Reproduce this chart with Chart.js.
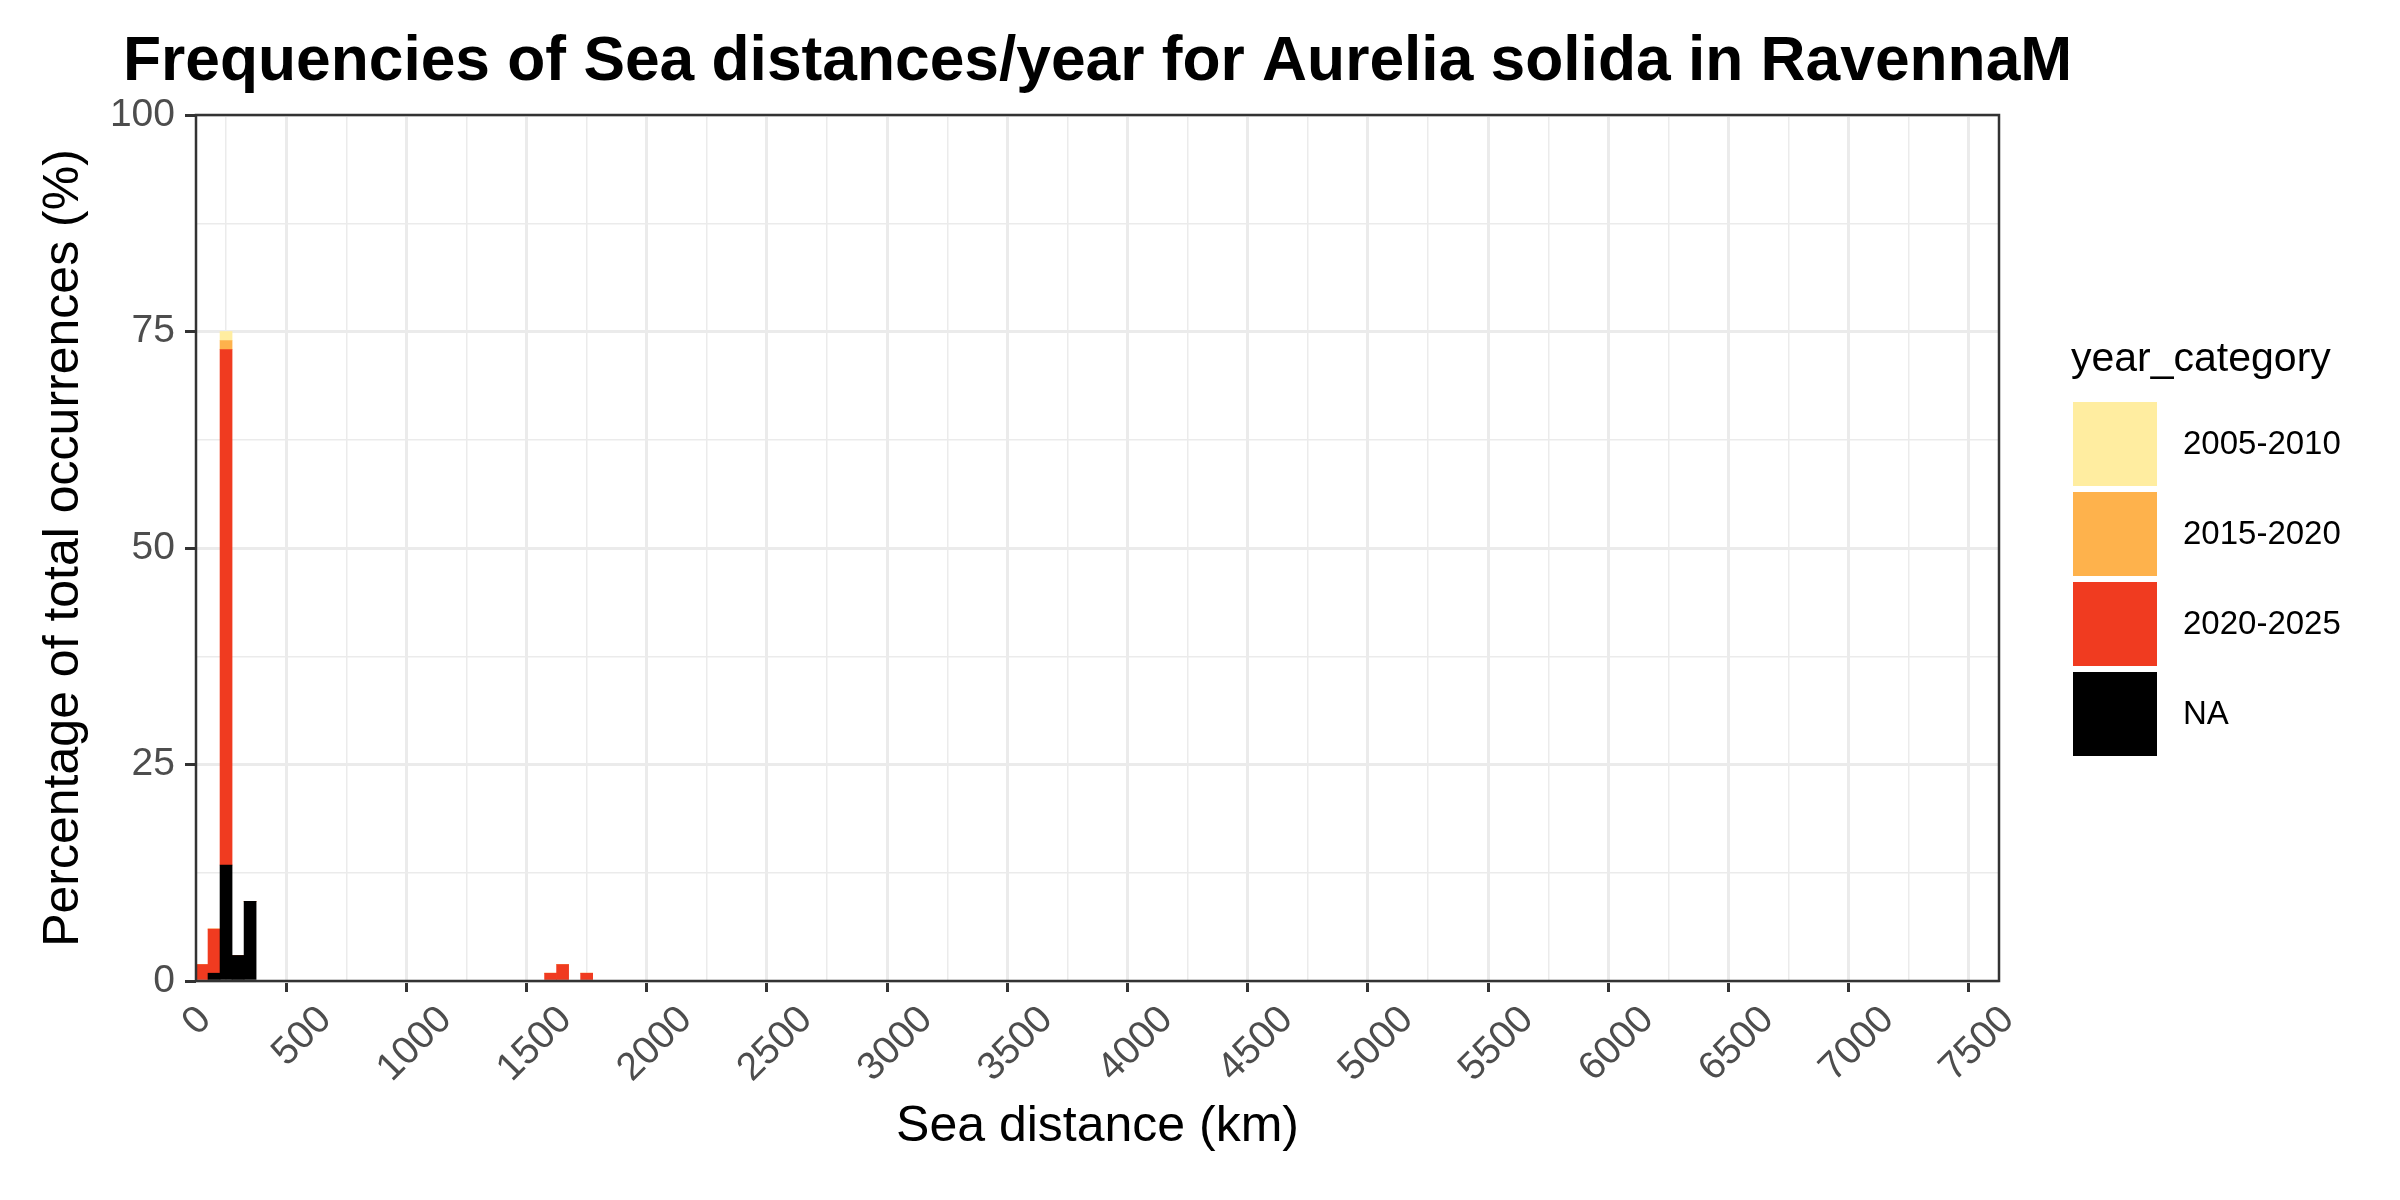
<!DOCTYPE html>
<html>
<head>
<meta charset="utf-8">
<script src="https://cdn.jsdelivr.net/npm/chart.js@4.4.1/dist/chart.umd.min.js"></script>
<style>
  html, body { margin: 0; padding: 0; background: #ffffff; }
  #wrap { width: 2400px; height: 1200px; }
</style>
</head>
<body>
<div id="wrap"><canvas id="c" width="2400" height="1200"></canvas></div>
<script>
// ---- data (histogram of sea distances, 50 km bins; value = % of total occurrences) ----
const binWidth = 50;
const binStarts   = [0,   50,  100,  150, 200, 1450, 1500, 1600];
const naPct       = [0,   0.9, 13.4, 2.95, 9.2, 0,   0,    0];
const pct20202025 = [1.9, 5.1, 59.5, 0,   0,   0.9, 1.9,  0.9];
const pct20152020 = [0,   0,   1.05, 0,   0,   0,   0,    0];
const pct20052010 = [0,   0,   1.05, 0,   0,   0,   0,    0];

const seriesNames  = ['NA', '2020-2025', '2015-2020', '2005-2010'];
const seriesValues = [naPct, pct20202025, pct20152020, pct20052010];
const seriesColors = ['#000000', '#F03B20', '#FEB24C', '#FFEDA0'];

const xTickValues = [0, 500, 1000, 1500, 2000, 2500, 3000, 3500, 4000, 4500, 5000, 5500, 6000, 6500, 7000, 7500];
const yTickValues = [0, 25, 50, 75, 100];

const titleText  = 'Frequencies of Sea distances/year for Aurelia solida in RavennaM';
const xTitleText = 'Sea distance (km)';
const yTitleText = 'Percentage of total occurrences (%)';
const legendTitleText = 'year_category';
const legendOrder = ['2005-2010', '2015-2020', '2020-2025', 'NA'];

const FONT = "'Liberation Sans', Arial, Helvetica, sans-serif";

const datasets = seriesNames.map((name, i) => ({
  label: name,
  data: binStarts.map((b, j) => ({ x: b + binWidth / 2, y: seriesValues[i][j] })),
  backgroundColor: seriesColors[i],
  borderWidth: 0,
  barPercentage: 1.0,
  categoryPercentage: 1.0
}));

const isMajorX = v => xTickValues.includes(v);
const isMajorY = v => yTickValues.includes(v);

const decorPlugin = {
  id: 'decor',
  afterDatasetsDraw(chart) {
    const { ctx, chartArea } = chart;
    ctx.save();
    ctx.strokeStyle = '#333333';
    ctx.lineWidth = 2.5;
    ctx.strokeRect(chartArea.left, chartArea.top, chartArea.right - chartArea.left, chartArea.bottom - chartArea.top);
    ctx.restore();
  },
  afterDraw(chart) {
    const { ctx } = chart;
    ctx.save();
    // title
    ctx.fillStyle = '#000000';
    ctx.font = 'bold 62.3px ' + FONT;
    ctx.textAlign = 'left';
    ctx.textBaseline = 'alphabetic';
    ctx.fillText(titleText, 123, 80);
    // legend
    ctx.font = '41px ' + FONT;
    ctx.fillText(legendTitleText, 2071, 371);
    const keyX = 2073, keyY0 = 402, keySize = 84, keyStep = 90;
    ctx.font = '33px ' + FONT;
    ctx.textBaseline = 'middle';
    legendOrder.forEach((name, k) => {
      const idx = seriesNames.indexOf(name);
      const y = keyY0 + k * keyStep;
      ctx.fillStyle = seriesColors[idx];
      ctx.fillRect(keyX, y, keySize, keySize);
      ctx.fillStyle = '#000000';
      ctx.fillText(name, 2183, y + keySize / 2 + 1);
    });
    ctx.restore();
  }
};

new Chart(document.getElementById('c'), {
  type: 'bar',
  data: { datasets },
  plugins: [decorPlugin],
  options: {
    responsive: false,
    animation: false,
    devicePixelRatio: 1,
    layout: { padding: { top: 115, right: 401, bottom: 0, left: 0 } },
    plugins: {
      legend: { display: false },
      title: { display: false },
      tooltip: { enabled: false }
    },
    scales: {
      x: {
        type: 'linear',
        stacked: true,
        min: 0,
        max: 7500,
        offset: false,
        afterFit(scale) { scale.height = 219; },
        border: { display: false },
        grid: {
          color: '#EBEBEB',
          lineWidth: c => (c.tick && isMajorX(c.tick.value)) ? 3 : 1.5,
          drawTicks: true,
          tickLength: 11,
          tickWidth: 3,
          tickColor: c => (c.tick && isMajorX(c.tick.value)) ? '#333333' : 'rgba(0,0,0,0)'
        },
        ticks: {
          stepSize: 250,
          autoSkip: false,
          maxRotation: 45,
          minRotation: 45,
          padding: 5,
          labelOffset: 9,
          color: '#4D4D4D',
          font: { family: FONT, size: 39 },
          callback: v => isMajorX(v) ? String(v) : ''
        },
        title: {
          display: true,
          text: xTitleText,
          color: '#000000',
          font: { family: FONT, size: 50 },
          padding: { top: 0, bottom: 43 }
        }
      },
      y: {
        type: 'linear',
        stacked: true,
        min: 0,
        max: 100,
        afterFit(scale) { scale.width = 196; },
        border: { display: false },
        grid: {
          color: '#EBEBEB',
          lineWidth: c => (c.tick && isMajorY(c.tick.value)) ? 3 : 1.5,
          drawTicks: true,
          tickLength: 11,
          tickWidth: 3,
          tickColor: c => (c.tick && isMajorY(c.tick.value)) ? '#333333' : 'rgba(0,0,0,0)'
        },
        ticks: {
          stepSize: 12.5,
          autoSkip: false,
          padding: 10,
          color: '#4D4D4D',
          font: { family: FONT, size: 39 },
          callback: v => isMajorY(v) ? String(v) : ''
        },
        title: {
          display: true,
          text: yTitleText,
          color: '#000000',
          font: { family: FONT, size: 50 },
          padding: { top: 34, bottom: 0 }
        }
      }
    }
  }
});
</script>
</body>
</html>
